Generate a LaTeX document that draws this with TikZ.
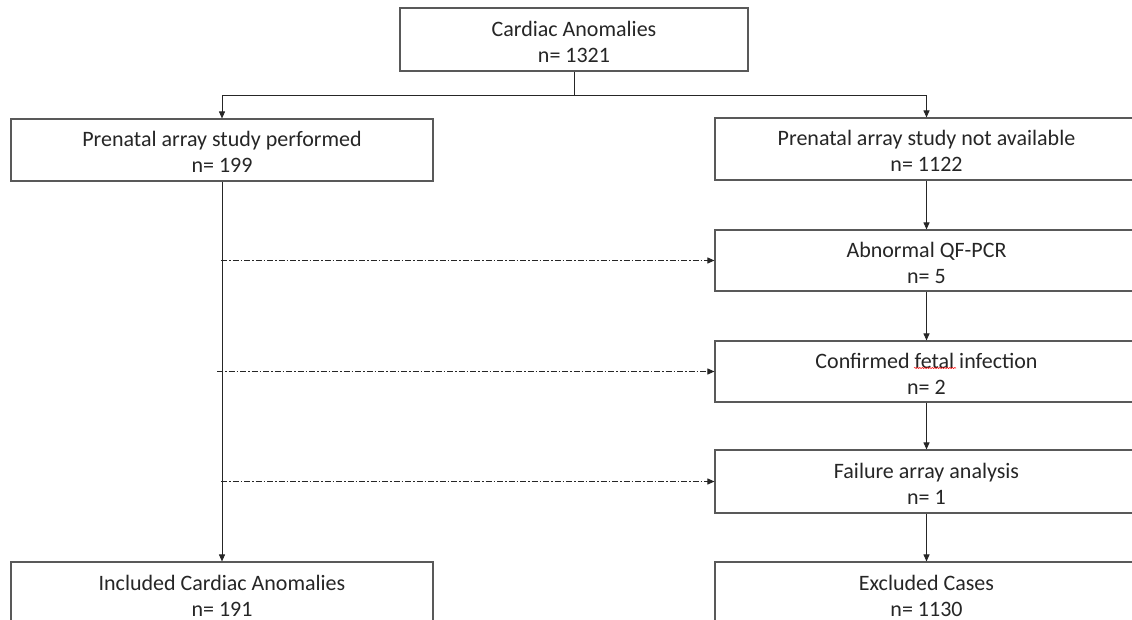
\documentclass[tikz,border=0pt]{standalone}
\usepackage{fontspec}
\setmainfont{Carlito}
\usetikzlibrary{arrows.meta,decorations.pathmorphing}
\newcommand{\fst}{\rule{0pt}{20pt}}
\begin{document}
\begin{tikzpicture}[x=1pt,y=-1pt,
  box/.style={draw=black!65,line width=1.1pt,fill=white,align=center,inner sep=0pt,
    font=\fontsize{22}{26}\selectfont,text=black!85},
  link/.style={draw=black!85,line width=0.9pt,-{Triangle[length=7pt,width=6pt]}},
  plain/.style={draw=black!85,line width=0.9pt},
  dd/.style={link,dash pattern=on 6pt off 2pt on 1.5pt off 2pt}]
\useasboundingbox (0,0) rectangle (1132,620);
\clip (0,0) rectangle (1132,620);
\node[box,minimum width=348pt,minimum height=63pt] (top) at (574,39.5) {\fst Cardiac Anomalies\\n= 1321};
\node[box,minimum width=422pt,minimum height=62pt] (A) at (222,150) {\fst Prenatal array study performed\\n= 199};
\node[box,minimum width=423pt,minimum height=62pt] (B) at (926.5,149) {\fst Prenatal array study not available\\n= 1122};
\node[box,minimum width=423pt,minimum height=61pt] (C) at (926.5,260.5) {\fst Abnormal QF-PCR\\n= 5};
\node[box,minimum width=423pt,minimum height=61pt] (D) at (926.5,371.5) {\fst Confirmed fetal infection\\n= 2};
\node[box,minimum width=423pt,minimum height=63pt] (E) at (926.5,481.5) {\fst Failure array analysis\\n= 1};
\node[box,minimum width=423pt,minimum height=63pt] (F) at (926.5,593.5) {\fst Excluded Cases\\n= 1130};
\node[box,minimum width=422pt,minimum height=63pt] (G) at (222,593.5) {\fst Included Cardiac Anomalies\\n= 191};
\draw[red,line width=0.5pt,decorate,decoration={snake,segment length=2.5pt,amplitude=0.6pt}] (914,368) -- (956,368);
\coordinate (j) at (574,95);
\draw[plain] (top.south) -- (j);
\draw[link] (j) -| (A.north);
\draw[link] (j) -| (B.north);
\draw[link] (B) -- (C);
\draw[link] (C) -- (D);
\draw[link] (D) -- (E);
\draw[link] (E) -- (F);
\draw[link] (A) -- (G);
\coordinate (s1) at (221,260.5);
\coordinate (s2) at (217,371.5);
\coordinate (s3) at (221,481.5);
\draw[dd] (s1) -- (s1 -| C.west);
\draw[dd] (s2) -- (s2 -| D.west);
\draw[dd] (s3) -- (s3 -| E.west);
\end{tikzpicture}
\end{document}
